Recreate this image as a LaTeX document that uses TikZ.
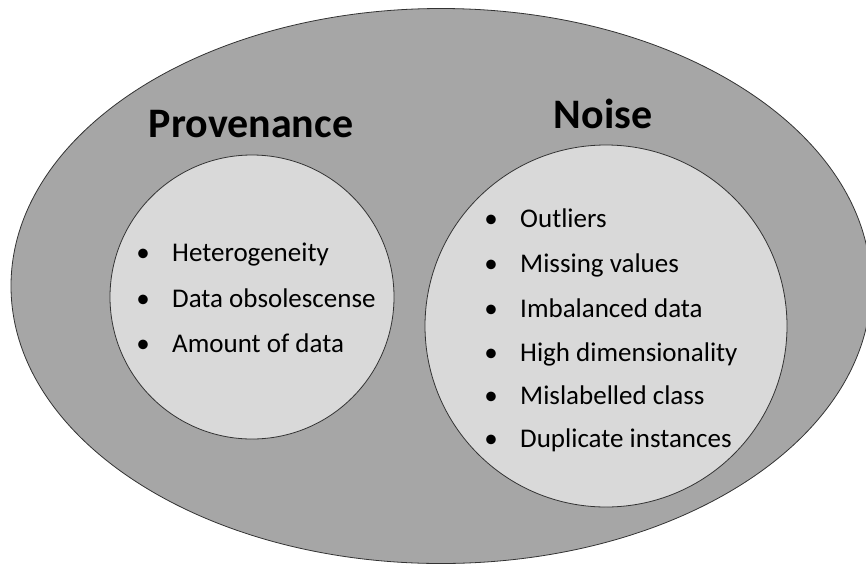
\documentclass[tikz,border=0pt]{standalone}
\usepackage{fontspec}
\setmainfont{Carlito}
\usetikzlibrary{shapes.geometric}
\definecolor{outerfill}{HTML}{A6A6A6}
\definecolor{innerfill}{HTML}{D9D9D9}
\tikzset{
  outerset/.style={ellipse, draw=black!80, line width=0.8pt, fill=outerfill,
    minimum width=860pt, minimum height=555pt, inner sep=0pt},
  innerset/.style={circle, draw=black!80, line width=0.8pt, fill=innerfill, inner sep=0pt},
  settitle/.style={font=\fontsize{42}{46}\selectfont\bfseries, anchor=base},
  item/.style={font=\fontsize{27}{31}\selectfont, anchor=base west, inner sep=0pt},
  bullet/.style={font=\fontsize{27}{31}\selectfont, anchor=base, inner sep=0pt}
}
\begin{document}
\begin{tikzpicture}[x=1pt, y=-1pt]
  \useasboundingbox (0,0) rectangle (866,565);
  \clip (0,0) rectangle (866,565);
  % outer set
  \node[outerset] (data) at (441,286) {};
  % inner sets
  \node[innerset, minimum size=284pt] (prov) at (252,297) {};
  \node[innerset, minimum size=362pt] (noise) at (606,326) {};
  % titles
  \node[settitle] (provtitle) at (251,137) {Provenance};
  \node[settitle] (noisetitle) at (603,128) {Noise};
  % provenance items
  \foreach \y/\t [count=\i] in {261/Heterogeneity, 307/Data obsolescense, 352/Amount of data}{
    \node[bullet] (pb\i) at (143,\y) {•};
    \node[item] (pi\i) at (172,\y) {\t};
  }
  % noise items
  \foreach \y/\t [count=\i] in {227/Outliers, 272/Missing values, 317/Imbalanced data,
      361/High dimensionality, 404/Mislabelled class, 447/Duplicate instances}{
    \node[bullet] (nb\i) at (491,\y) {•};
    \node[item] (ni\i) at (520,\y) {\t};
  }
\end{tikzpicture}
\end{document}
